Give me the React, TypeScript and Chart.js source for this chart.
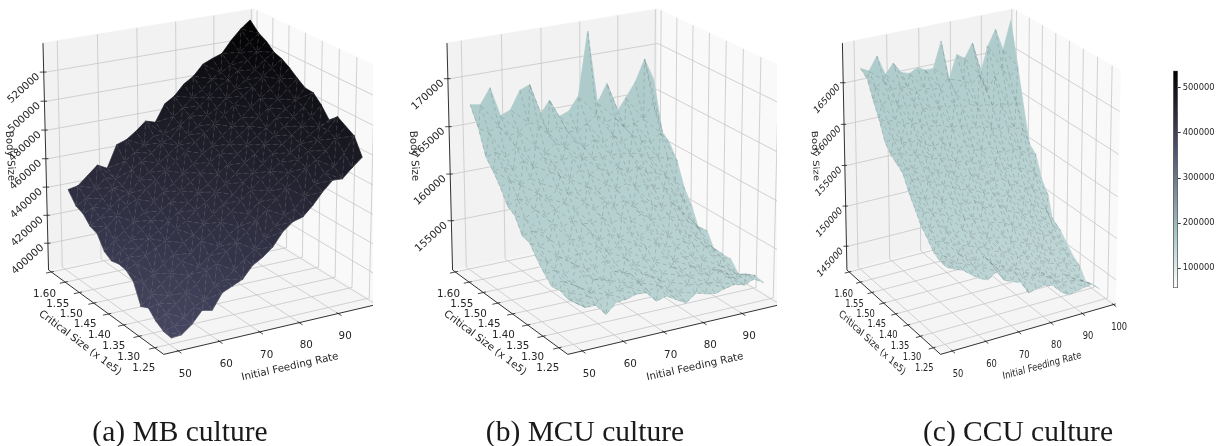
import React, { useEffect, useRef } from "react";
import { Chart, registerables } from "chart.js";

Chart.register(...registerables);

const rates = [50.5, 53, 55.5, 58, 60.5, 63, 65.5, 68, 70.5, 73, 75.5, 78, 80.5, 83, 85.5, 88, 90.5, 93, 95.5, 98];
const sizes = [1.25, 1.274, 1.298, 1.322, 1.346, 1.37, 1.394, 1.418, 1.442, 1.466, 1.49, 1.514, 1.538, 1.562, 1.59];
const rateTicks = [50, 60, 70, 80, 90, 100];
const sizeTicks = [1.25, 1.3, 1.35, 1.4, 1.45, 1.5, 1.55, 1.6];
const mbTicks = [400000, 420000, 440000, 460000, 480000, 500000, 520000];
const mcuTicks = [155000, 160000, 165000, 170000];
const ccuTicks = [145000, 150000, 155000, 160000, 165000];
const colorbarTicks = [100000, 200000, 300000, 400000, 500000];

// Body size in thousands; one row per critical size, one column per feeding rate.
const mbBody = [
  [385, 385.6, 391, 399, 397.5, 408, 411, 414, 422, 426, 431.5, 440.4, 445.8, 447.6, 454, 462, 468.4, 468, 474.4, 480],
  [385.8, 388, 392, 398, 401, 409, 412, 417, 423, 428, 434, 441, 447, 450, 457, 464, 470, 473, 481, 491.5],
  [389, 393, 398, 404, 408, 416, 419, 426, 431, 437, 443, 449, 455, 461, 466, 472, 476, 481, 488, 495],
  [394.5, 396, 400, 406, 411, 415, 421, 426, 433, 437, 444, 451, 457, 462, 467, 474, 479, 485, 491, 498.5],
  [391.8, 399, 404, 410, 417, 421, 428, 432, 438, 444, 450, 456, 462, 466, 471, 476, 481, 486, 490, 493.5],
  [405.5, 403, 408, 413, 418, 425, 429, 435, 440, 446, 451, 458, 463, 468, 474, 479, 484, 489, 494, 501],
  [409.9, 413, 417, 421, 424, 431, 435, 441, 445, 451, 455, 461, 467, 472, 477, 482, 487, 492, 498, 506.5],
  [410.7, 414, 419, 424, 428, 433, 438, 443, 449, 453, 459, 464, 470, 475, 480, 484, 490, 495, 500, 507],
  [409.2, 416, 421, 427, 432, 437, 442, 448, 453, 458, 464, 469, 474, 479, 484, 489, 494, 499, 505, 511],
  [412.4, 419, 424, 429, 434, 440, 446, 450, 456, 461, 467, 471, 477, 482, 487, 493, 498, 503, 509, 515.5],
  [421.5, 425, 431, 437, 440, 446, 451, 456, 461, 467, 472, 477, 482, 487, 493, 498, 503, 509, 514, 519],
  [423.4, 428, 433, 439, 441, 449, 453, 458, 463, 468, 474, 479, 485, 489, 495, 500, 505, 511, 517, 521],
  [429, 432, 437, 443, 443, 453, 458, 462, 468, 470, 478, 483, 489, 494, 500, 504, 509, 515, 520, 526],
  [431, 435, 441, 447, 445, 456, 461, 465, 470, 470, 481, 486, 492, 496, 503, 506, 510, 518, 524, 529],
  [439, 440.4, 446.3, 452.3, 448.8, 464.1, 466.4, 471.2, 477, 474.9, 486.7, 491, 498.3, 502.6, 509.9, 512.8, 515.1, 523.4, 530.2, 535.5],
];
const mcuBody = [
  [153.9, 153.2, 153.2, 152, 153, 153.1, 153.4, 153.3, 152.2, 152.5, 151.9, 151.3, 152.1, 151.8, 151.6, 151.9, 152.1, 151.8, 152.2, 151.6],
  [153.8, 153.4, 153.6, 152.9, 153.3, 153.5, 153.6, 153.8, 152.7, 153.1, 152.4, 151.9, 152.5, 152.2, 152.2, 152, 152.4, 151.9, 152.2, 151.8],
  [154.1, 153.6, 153.9, 153.2, 153.4, 154, 153.5, 154.2, 153, 153.6, 152.8, 152.4, 152.9, 152.5, 152.7, 152.2, 152.6, 151.9, 151.6, 150.7],
  [153.9, 154.3, 153.7, 154.5, 153.8, 153.4, 154.2, 153.7, 154, 153.2, 153.4, 152.8, 153.3, 152.7, 152.9, 152.4, 152.1, 152.3, 151.7, 150.9],
  [154.7, 154.9, 154.2, 155, 154.4, 154.1, 154.8, 154.3, 154.6, 153.7, 154, 153.5, 153.9, 153.2, 153.4, 153.1, 152.6, 152.9, 152.4, 152],
  [155.7, 155.2, 155.6, 154.9, 155.4, 155.1, 155.7, 154.9, 155.3, 154.6, 155, 154.4, 154.8, 154.1, 154, 154.2, 153.5, 153.4, 152.9, 152],
  [156.9, 156.3, 156.8, 155.9, 156.4, 156, 156.7, 155.6, 156.1, 155.4, 155.9, 155.2, 155.7, 155, 154.6, 155.1, 154.3, 153.8, 153, 151.8],
  [157.1, 157.4, 157, 157.7, 157.2, 157.6, 157.1, 156.9, 157.3, 156.5, 156.9, 156.3, 156.8, 156.1, 155.9, 156, 155.4, 154.9, 154.2, 153.5],
  [158.7, 158.2, 158.9, 158.1, 158.5, 159, 158, 158.6, 157.7, 158.3, 157.5, 158, 157.2, 157.6, 156.9, 156.4, 156.8, 155.6, 154.6, 153],
  [159.2, 159.8, 159.3, 159.9, 159.1, 160, 159.4, 159.2, 159.6, 159, 159.4, 158.7, 159.1, 158.5, 158.6, 157.9, 157.9, 157.1, 156.3, 155.2],
  [160.7, 161.2, 160.5, 161, 160.3, 161.3, 160.6, 160.1, 160.9, 160.2, 160.7, 159.8, 160.4, 159.6, 160.1, 159.2, 158.9, 158.4, 157.6, 156.7],
  [161.9, 162.1, 161.6, 162.4, 161.6, 162.4, 161.5, 161.7, 161.8, 161.5, 161.4, 161.2, 161.2, 161.2, 161, 160.8, 160.2, 159.9, 159.8, 159.2],
  [162.9, 163.2, 162.5, 163.4, 162.7, 163.1, 162.2, 163, 162.4, 162.9, 161.9, 162.6, 162.1, 162.7, 161.8, 162.3, 161.6, 161.1, 162, 160.7],
  [165.4, 164.9, 165.3, 164.1, 164.3, 165.1, 164.7, 163.6, 164.1, 163.4, 163.2, 163.9, 164.6, 163.7, 163.9, 162.6, 163, 163.2, 164.8, 161.5],
  [167.4, 167.2, 168.8, 165.7, 166.1, 168, 168.4, 165, 166.4, 164.5, 164.9, 166.3, 173, 165.2, 167.1, 163.8, 165.2, 166.7, 169, 166.6],
];
const ccuBody = [
  [151.1, 150.6, 150.2, 149.4, 148.7, 148.3, 149, 147.7, 147.3, 146.9, 145.4, 145.7, 145.8, 145.5, 144.5, 143.8, 144, 144.2, 144.3, 143.5],
  [151.2, 150.8, 150.4, 150.1, 149.6, 149.2, 149.5, 148.4, 148, 147.6, 146.7, 146.6, 146.4, 146, 145.3, 144.6, 144.7, 144.4, 144, 143.4],
  [151.6, 151, 150.4, 150.7, 149.8, 149.2, 149.6, 148.5, 148, 147.6, 147.2, 146.4, 146.7, 145.9, 145.3, 144.6, 144.9, 144.2, 143.7, 143.05],
  [152.6, 152.1, 151.7, 151.3, 150.8, 150.5, 150.1, 149.8, 149.1, 148.8, 148.4, 147.7, 147.6, 147, 146.5, 145.8, 145.6, 145.4, 144.8, 144.5],
  [153.5, 152.9, 153.2, 152.2, 151.6, 151.9, 150.9, 151.1, 150.2, 149.7, 149.9, 149, 148.6, 148.2, 147.8, 147, 146.4, 146.6, 145.8, 145.1],
  [154.9, 154.3, 154, 153.7, 153, 153.2, 152.3, 152.1, 151.8, 151.1, 150.9, 150.6, 149.9, 149.5, 149.1, 148.5, 147.8, 147.6, 146.8, 146.1],
  [156.3, 155.6, 154.9, 155.2, 154.3, 154.6, 153.7, 153.2, 153.5, 152.5, 152, 152.3, 151.3, 150.9, 150.4, 150, 149.2, 148.7, 147.9, 147.1],
  [158, 157.2, 156.6, 156.5, 155.8, 155.4, 155.1, 154.4, 154.3, 153.9, 153.2, 153.2, 152.4, 152.4, 151.6, 151.2, 150.6, 149.9, 149.3, 146.9],
  [158.6, 158, 157.4, 157.7, 156.8, 156.2, 156.5, 155.6, 155.1, 155.4, 154.5, 154.1, 153.6, 153.9, 152.9, 152.5, 152.1, 151.6, 151, 150.4],
  [159.1, 159.2, 158.6, 158.5, 158.2, 157.5, 157.4, 157.1, 156.4, 156.4, 156, 155.4, 155, 155.3, 154.4, 154, 154, 153.4, 152.9, 151.8],
  [160.1, 160.3, 159.7, 159.3, 159.6, 158.7, 158.3, 158.6, 157.7, 157.3, 157.6, 156.8, 156.4, 156.7, 155.9, 155.5, 155.8, 155.2, 154.8, 154.4],
  [162.3, 161.9, 161.7, 161.1, 161, 160.7, 160.1, 160.1, 159.8, 159.3, 159.6, 158.8, 158.8, 158.6, 158.3, 157.8, 158.1, 157.5, 157.4, 155.1],
  [164.1, 163.4, 163.7, 162.9, 162.4, 162.7, 161.9, 161.5, 161.8, 161.2, 161.5, 160.8, 161.1, 160.5, 160.7, 160.1, 160.4, 159.8, 160.1, 159.3],
  [166.1, 164.9, 165.5, 164.2, 164.4, 164, 163.4, 163.5, 163.3, 163.1, 164.2, 162, 163.4, 162.8, 163.8, 161.5, 163.2, 163.8, 162.7, 163.8],
  [166.8, 166.3, 167.9, 165.45, 166.65, 165.3, 165, 165.5, 165, 165, 168.1, 163.3, 166.1, 165.4, 167.1, 163, 166.3, 168.2, 165.5, 168.9],
];

const AZIM = (-120 * Math.PI) / 180;
const ELEV = (20 * Math.PI) / 180;
const DIST = 10;
const CMAP_MIN = 56400;
const CMAP_MAX = 537650;

type Panel = {
  caption: string; captionX: number; left: number; width: number;
  cx: number; cy: number; sx: number; sy: number; hs: number;
  zLim: [number, number]; zTicks: number[]; body: number[][]; rateTicksShown: number[];
  bodyLabel: [number, number]; sizeLabel: [number, number]; rateLabel: [number, number];
  meshColor: string;
};

const rateLim: [number, number] = [46.5, 100.7];
const sizeLim: [number, number] = [1.222, 1.61];

const panels: Panel[] = [
  { caption: "(a) MB culture", captionX: 180, left: 0, width: 373, cx: 211, cy: 173.5, sx: 246, sy: 245, hs: 1,
    zLim: [381000, 540000], zTicks: mbTicks, body: mbBody, rateTicksShown: [50, 60, 70, 80, 90],
    bodyLabel: [10, 156], sizeLabel: [80, 343], rateLabel: [290, 367], meshColor: "rgba(150,150,150,0.55)" },
  { caption: "(b) MCU culture", captionX: 585, left: 400, width: 377, cx: 615, cy: 173.5, sx: 246, sy: 245, hs: 1,
    zLim: [149700, 173700], zTicks: mcuTicks, body: mcuBody, rateTicksShown: [50, 60, 70, 80, 90],
    bodyLabel: [414, 156], sizeLabel: [485, 343], rateLabel: [695, 367], meshColor: "rgba(85,100,100,0.6)" },
  { caption: "(c) CCU culture", captionX: 1018, left: 800, width: 340, cx: 979, cy: 173.5, sx: 200, sy: 245, hs: 0.81,
    zLim: [142070, 169750], zTicks: ccuTicks, body: ccuBody, rateTicksShown: rateTicks,
    bodyLabel: [815, 156], sizeLabel: [872, 343], rateLabel: [1042, 366], meshColor: "rgba(85,100,100,0.6)" },
];

function project(p: Panel, rate: number, size: number, z: number) {
  const a = (rate - rateLim[0]) / (rateLim[1] - rateLim[0]) - 0.5;
  const b = (size - sizeLim[0]) / (sizeLim[1] - sizeLim[0]) - 0.5;
  const c = (z - p.zLim[0]) / (p.zLim[1] - p.zLim[0]) - 0.5;
  const ca = Math.cos(AZIM), sa = Math.sin(AZIM), ce = Math.cos(ELEV), se = Math.sin(ELEV);
  const right = -sa * a + ca * b;
  const up = -ca * se * a - sa * se * b + ce * c;
  const toward = ca * ce * a + sa * ce * b + se * c;
  const f = DIST / (DIST - toward);
  return { x: p.cx + p.sx * right * f, y: p.cy - p.sy * up * f };
}

function bone(t: number) {
  const seg = (st: number[][]) => {
    for (let i = 1; i < st.length; i++) {
      if (t <= st[i][0]) return st[i - 1][1] + ((t - st[i - 1][0]) / (st[i][0] - st[i - 1][0])) * (st[i][1] - st[i - 1][1]);
    }
    return 1;
  };
  const r = seg([[0, 0], [0.746, 0.652], [1, 1]]);
  const g = seg([[0, 0], [0.365, 0.319], [0.746, 0.777], [1, 1]]);
  const b = seg([[0, 0], [0.365, 0.444], [1, 1]]);
  return `rgb(${Math.round(r * 255)},${Math.round(g * 255)},${Math.round(b * 255)})`;
}
function colorOf(v: number) {
  const t = Math.min(1, Math.max(0, (v - CMAP_MIN) / (CMAP_MAX - CMAP_MIN)));
  return bone(1 - t);
}

const GAP = { x: NaN, y: NaN };
const line = (data: any[], color: string, width: number, dash: number[] = [], dashOffset = 0) => ({
  data, borderColor: color, borderWidth: width, borderDash: dash, borderDashOffset: dashOffset,
  showLine: true, pointRadius: 0, fill: false, tension: 0,
});
const polygon = (data: any[], color: string) => ({
  data: [...data, data[0]], backgroundColor: color, borderColor: color, borderWidth: 0.7,
  showLine: true, pointRadius: 0, fill: "shape", tension: 0,
});

function buildDatasets(p: Panel) {
  const [r0, r1] = rateLim, [s0, s1] = sizeLim, [z0, z1] = p.zLim;
  const P = (r: number, s: number, z: number) => project(p, r, s, z);
  const list: any[] = [];
  list.push(polygon([P(r0, s1, z0), P(r1, s1, z0), P(r1, s1, z1), P(r0, s1, z1)], "#f2f2f2"));
  list.push(polygon([P(r1, s0, z0), P(r1, s1, z0), P(r1, s1, z1), P(r1, s0, z1)], "#f9f9f9"));
  list.push(polygon([P(r0, s0, z0), P(r1, s0, z0), P(r1, s1, z0), P(r0, s1, z0)], "#f5f5f5"));
  const grid: any[] = [];
  const seg = (a: any, b: any) => grid.push(a, b, GAP);
  rateTicks.forEach((r) => { seg(P(r, s0, z0), P(r, s1, z0)); seg(P(r, s1, z0), P(r, s1, z1)); });
  sizeTicks.forEach((s) => { seg(P(r0, s, z0), P(r1, s, z0)); seg(P(r1, s, z0), P(r1, s, z1)); });
  p.zTicks.forEach((z) => { seg(P(r0, s1, z), P(r1, s1, z)); seg(P(r1, s1, z), P(r1, s0, z)); });
  list.push(line(grid, "#c6c6c6", 0.8));
  const axes: any[] = [P(r0, s1, z1), P(r0, s1, z0), P(r0, s0, z0), P(r1, s0, z0)];
  list.push(line(axes, "#1c1c1c", 0.9));
  const ticks: any[] = [];
  const dr = r1 - r0, ds = s1 - s0;
  p.rateTicksShown.forEach((r) => ticks.push(P(r, s0 + 0.012 * ds, z0), P(r, s0 - 0.025 * ds, z0), GAP));
  sizeTicks.forEach((s) => ticks.push(P(r0 + 0.012 * dr, s, z0), P(r0 - 0.025 * dr, s, z0), GAP));
  p.zTicks.forEach((z) => ticks.push(P(r0 + 0.012 * dr, s1, z), P(r0 - 0.012 * dr, s1 + 0.012 * ds, z), GAP));
  list.push(line(ticks, "#1c1c1c", 0.8));
  const Z = (j: number, i: number) => p.body[j][i] * 1000;
  const V = (j: number, i: number) => P(rates[i], sizes[j], Z(j, i));
  const mesh: any[] = [];
  for (let j = sizes.length - 2; j >= 0; j--) {
    for (let i = rates.length - 2; i >= 0; i--) {
      const a = V(j, i), b = V(j, i + 1), c = V(j + 1, i + 1), d = V(j + 1, i);
      if ((i * i + 3 * j * j + i * j) % 5 < 2) {
        list.push(polygon([c, d, b], colorOf((Z(j + 1, i + 1) + Z(j + 1, i) + Z(j, i + 1)) / 3)));
        list.push(polygon([d, a, b], colorOf((Z(j + 1, i) + Z(j, i) + Z(j, i + 1)) / 3)));
        mesh.push(d, b, GAP);
      } else {
        list.push(polygon([c, d, a], colorOf((Z(j + 1, i + 1) + Z(j + 1, i) + Z(j, i)) / 3)));
        list.push(polygon([c, a, b], colorOf((Z(j + 1, i + 1) + Z(j, i) + Z(j, i + 1)) / 3)));
        mesh.push(a, c, GAP);
      }
      mesh.push(a, b, GAP, a, d, GAP);
    }
  }
  list.push(line(mesh, p.meshColor, 0.45, [4, 3], 5.5));
  return list.reverse();
}

function labelPlugin(p: Panel) {
  return {
    id: "labels3d",
    afterDraw(chart: any) {
      const { ctx, scales } = chart;
      const X = (v: number) => scales.x.getPixelForValue(v);
      const Y = (v: number) => scales.y.getPixelForValue(v);
      const text = (s: string, px: number, py: number, deg: number, font: string, hs = p.hs) => {
        ctx.save();
        ctx.translate(px, py);
        ctx.scale(hs, 1);
        ctx.rotate((deg * Math.PI) / 180);
        ctx.font = font;
        ctx.fillStyle = "#262626";
        ctx.textAlign = "center";
        ctx.textBaseline = "middle";
        ctx.fillText(s, 0, 0);
        ctx.restore();
      };
      const f = '10.3px "DejaVu Sans"';
      const r0 = rateLim[0];
      const [s0, s1] = sizeLim;
      const z0 = p.zLim[0];
      p.rateTicksShown.forEach((r) => {
        const q = project(p, r, s0, z0);
        text(String(r), X(q.x) + 7 * p.hs, Y(q.y) + 23, 0, f);
      });
      sizeTicks.forEach((s) => {
        const q = project(p, r0, s, z0);
        text(s.toFixed(2), X(q.x) + (-11 + (s - 1.25) * 12) * p.hs, Y(q.y) + 21 + (s - 1.25) * 3, 0, f);
      });
      p.zTicks.forEach((z) => {
        const q = project(p, r0, s1, z);
        text(String(z), X(q.x) - 20 * p.hs, Y(q.y) + 16, -42, f);
      });
      text("Body Size", X(p.bodyLabel[0]), Y(p.bodyLabel[1]), 87, f);
      text("Critical Size (x 1e5)", X(p.sizeLabel[0]), Y(p.sizeLabel[1]), 37, f);
      text("Initial Feeding Rate", X(p.rateLabel[0]), Y(p.rateLabel[1]), -12.5, f);
      ctx.save();
      ctx.font = '29.5px "Liberation Serif"';
      ctx.fillStyle = "#1a1a1a";
      ctx.textAlign = "center";
      ctx.textBaseline = "alphabetic";
      ctx.fillText(p.caption, X(p.captionX), Y(441));
      ctx.restore();
    },
  };
}

function SurfacePanel({ panel }: { panel: Panel }) {
  const ref = useRef<HTMLCanvasElement>(null);
  useEffect(() => {
    const chart = new Chart(ref.current as any, {
      type: "scatter",
      data: { datasets: buildDatasets(panel) as any },
      options: {
        animation: false, responsive: false, devicePixelRatio: 1, events: [],
        layout: { padding: 0 },
        plugins: { legend: { display: false }, tooltip: { enabled: false } },
        scales: {
          x: { type: "linear", display: false, min: panel.left, max: panel.left + panel.width },
          y: { type: "linear", display: false, min: 0, max: 446, reverse: true },
        },
      },
      plugins: [labelPlugin(panel)],
    } as any);
    return () => chart.destroy();
  }, [panel]);
  return (
    <canvas ref={ref} width={panel.width} height={446}
      style={{ position: "absolute", left: panel.left, top: 0, width: panel.width, height: 446, filter: "blur(0.4px)" }} />
  );
}

function Colorbar() {
  const ref = useRef<HTMLCanvasElement>(null);
  useEffect(() => {
    const chart = new Chart(ref.current as any, {
      type: "bar",
      data: {
        labels: [""],
        datasets: [{
          data: [[CMAP_MIN, CMAP_MAX]] as any,
          barPercentage: 1, categoryPercentage: 1, borderWidth: 0.8, borderColor: "#222", borderSkipped: false,
          backgroundColor: (c: any) => {
            const area = c.chart.chartArea;
            if (!area) return "#888";
            const g = c.chart.ctx.createLinearGradient(0, area.bottom, 0, area.top);
            for (let k = 0; k <= 40; k++) g.addColorStop(k / 40, bone(1 - k / 40));
            return g;
          },
        }],
      },
      options: {
        animation: false, responsive: false, devicePixelRatio: 1, events: [],
        layout: { padding: { left: 33.3, top: 10.7, bottom: 12, right: 0 } },
        plugins: { legend: { display: false }, tooltip: { enabled: false } },
        scales: {
          x: { display: false },
          y: {
            position: "right", min: CMAP_MIN, max: CMAP_MAX, bounds: "data",
            afterFit: (s: any) => { s.width = 39.3; },
            afterBuildTicks: (s: any) => { s.ticks = colorbarTicks.map((value) => ({ value })); },
            border: { display: false },
            grid: { drawOnChartArea: false, drawTicks: true, tickLength: 3, color: "#333" },
            ticks: { font: { family: "DejaVu Sans", size: 8.4 }, color: "#262626", padding: 2, includeBounds: false, callback: (v: any) => String(v) },
          },
        },
      },
    } as any);
    return () => chart.destroy();
  }, []);
  return (
    <canvas ref={ref} width={77} height={240}
      style={{ position: "absolute", left: 1140, top: 60, width: 77, height: 240, filter: "blur(0.3px)" }} />
  );
}

export default function App() {
  return (
    <div style={{ position: "absolute", left: 0, top: 0, width: 1217, height: 446, background: "#fff", overflow: "hidden" }}>
      {panels.map((p) => <SurfacePanel key={p.caption} panel={p} />)}
      <Colorbar />
    </div>
  );
}
